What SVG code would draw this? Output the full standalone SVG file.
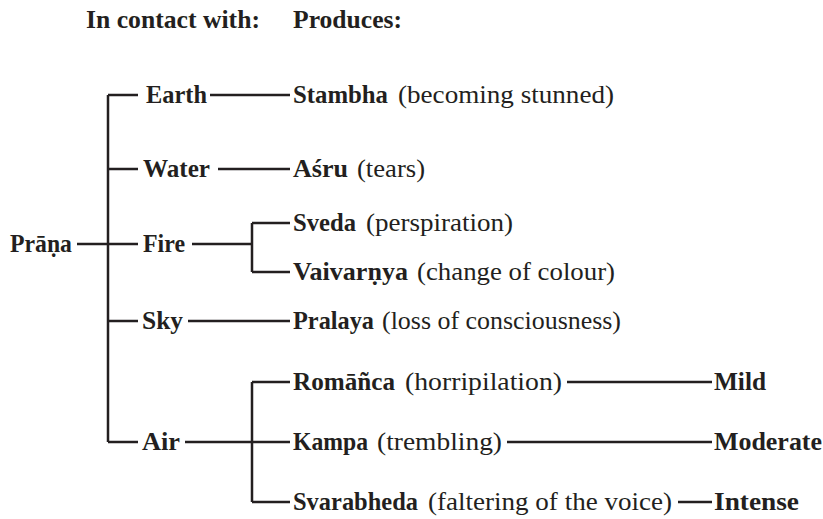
<svg xmlns="http://www.w3.org/2000/svg" width="823" height="519" viewBox="0 0 823 519">
<style>
text{font-family:"Liberation Serif","DejaVu Serif",serif;font-size:25px;font-weight:bold;fill:#231f20}
text.r{font-weight:normal}
.c{stroke:#231f20;stroke-width:2.5;fill:none}
</style>
<rect width="823" height="519" fill="#fff"/>
<g id="header">
<text x="86" y="28" textLength="174" lengthAdjust="spacingAndGlyphs">In contact with:</text>
<text x="293" y="28" textLength="109" lengthAdjust="spacingAndGlyphs">Produces:</text>
</g>
<g id="connectors" class="c">
<path d="M77 244H108M108 95V442M108 95H138M108 169H138M108 244H138M108 321H138M108 442H138"/>
<path d="M210 95H290M218 169H290M192 244H252M252 223V272M252 223H290M252 272H290M188 321H290"/>
<path d="M185 442H252M252 382V502M252 382H290M252 442H290M252 502H290"/>
<path d="M567 382H712M507 442H712M678 502H712"/>
</g>
<g id="prana"><text x="10" y="252" textLength="62" lengthAdjust="spacingAndGlyphs">Prāṇa</text></g>
<g id="earth"><text x="146" y="103" textLength="61" lengthAdjust="spacingAndGlyphs">Earth</text></g>
<g id="water"><text x="143" y="177" textLength="67" lengthAdjust="spacingAndGlyphs">Water</text></g>
<g id="fire"><text x="143" y="252" textLength="42" lengthAdjust="spacingAndGlyphs">Fire</text></g>
<g id="sky"><text x="142" y="329" textLength="41" lengthAdjust="spacingAndGlyphs">Sky</text></g>
<g id="air"><text x="142" y="450" textLength="38" lengthAdjust="spacingAndGlyphs">Air</text></g>
<g id="stambha"><text x="293" y="103" textLength="95" lengthAdjust="spacingAndGlyphs">Stambha</text><text class="r" x="398" y="103" textLength="216" lengthAdjust="spacingAndGlyphs">(becoming stunned)</text></g>
<g id="asru"><text x="293" y="177" textLength="55" lengthAdjust="spacingAndGlyphs">Aśru</text><text class="r" x="357" y="177" textLength="68" lengthAdjust="spacingAndGlyphs">(tears)</text></g>
<g id="sveda"><text x="293" y="231" textLength="63" lengthAdjust="spacingAndGlyphs">Sveda</text><text class="r" x="366" y="231" textLength="147" lengthAdjust="spacingAndGlyphs">(perspiration)</text></g>
<g id="vaivarnya"><text x="293" y="280" textLength="115" lengthAdjust="spacingAndGlyphs">Vaivarṇya</text><text class="r" x="417" y="280" textLength="198" lengthAdjust="spacingAndGlyphs">(change of colour)</text></g>
<g id="pralaya"><text x="293" y="329" textLength="81" lengthAdjust="spacingAndGlyphs">Pralaya</text><text class="r" x="382" y="329" textLength="239" lengthAdjust="spacingAndGlyphs">(loss of consciousness)</text></g>
<g id="romanca"><text x="293" y="390" textLength="102" lengthAdjust="spacingAndGlyphs">Romāñca</text><text class="r" x="405" y="390" textLength="157" lengthAdjust="spacingAndGlyphs">(horripilation)</text></g>
<g id="kampa"><text x="293" y="450" textLength="75" lengthAdjust="spacingAndGlyphs">Kampa</text><text class="r" x="377" y="450" textLength="125" lengthAdjust="spacingAndGlyphs">(trembling)</text></g>
<g id="svarabheda"><text x="293" y="510" textLength="125" lengthAdjust="spacingAndGlyphs">Svarabheda</text><text class="r" x="428" y="510" textLength="244" lengthAdjust="spacingAndGlyphs">(faltering of the voice)</text></g>
<g id="mild"><text x="714" y="390" textLength="52" lengthAdjust="spacingAndGlyphs">Mild</text></g>
<g id="moderate"><text x="714" y="450" textLength="108" lengthAdjust="spacingAndGlyphs">Moderate</text></g>
<g id="intense"><text x="714" y="510" textLength="85" lengthAdjust="spacingAndGlyphs">Intense</text></g>
</svg>
